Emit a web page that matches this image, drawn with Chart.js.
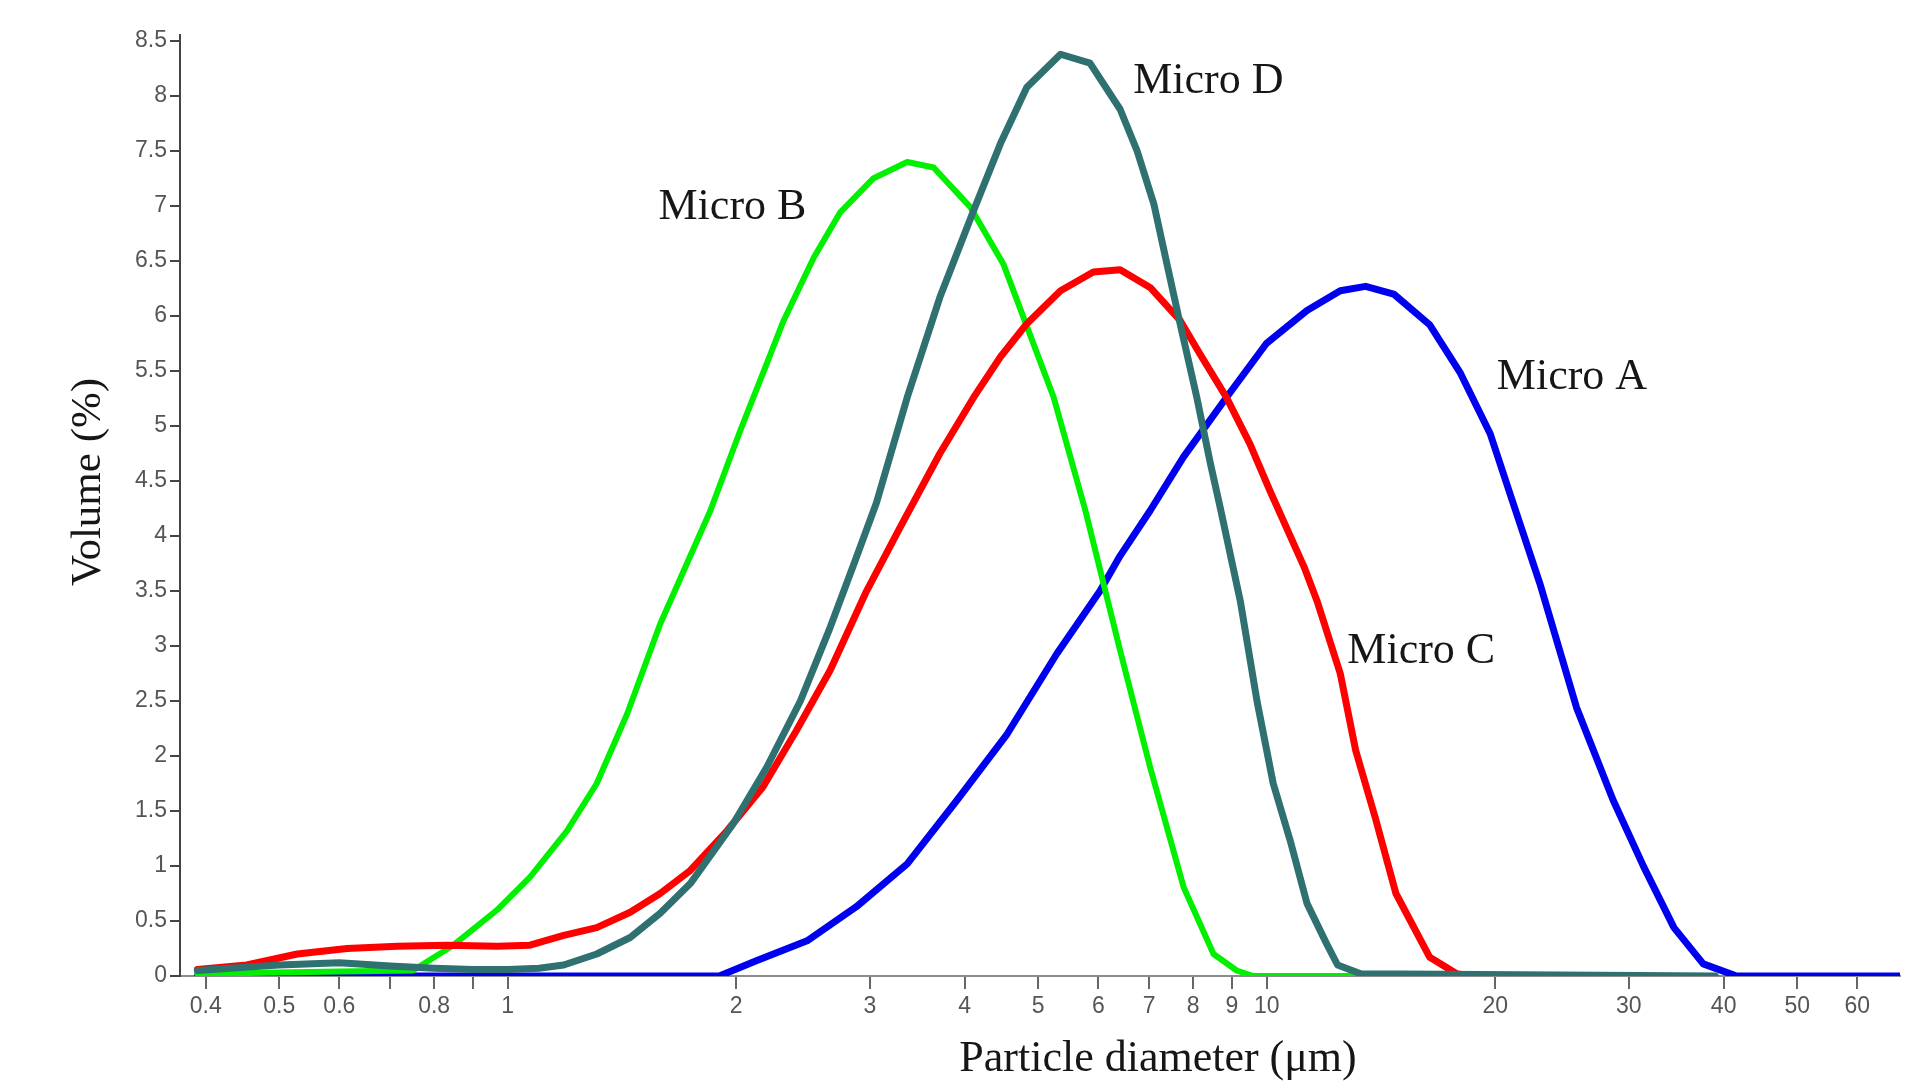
<!DOCTYPE html>
<html>
<head>
<meta charset="utf-8">
<title>Particle size distribution</title>
<script src="https://cdn.jsdelivr.net/npm/chart.js@4.4.1/dist/chart.umd.min.js"></script>
<style>
  html, body { margin: 0; padding: 0; background: #fff; }
  #wrap { width: 1913px; height: 1089px; position: relative; }
</style>
</head>
<body>
<div id="wrap"><canvas id="psdChart"></canvas></div>
<script>
// Particle diameter (um) / volume (%), one pair of arrays per sample
const microA_x = [0.39, 1.9, 2.13, 2.48, 2.88, 3.36, 3.91, 4.55, 5.29, 6.03, 6.41, 7.02, 7.77, 8.85, 9.99, 11.3, 12.5, 13.5, 14.7, 16.4, 18.0, 19.7, 21.0, 22.9, 25.6, 28.6, 31.4, 34.4, 37.6, 41.6, 68.3];
const microA_y = [0, 0, 0.14, 0.32, 0.63, 1.02, 1.60, 2.20, 2.93, 3.50, 3.82, 4.23, 4.72, 5.26, 5.75, 6.05, 6.23, 6.27, 6.20, 5.92, 5.48, 4.93, 4.35, 3.57, 2.44, 1.60, 0.99, 0.44, 0.11, 0, 0];

const microB_x = [0.39, 0.6, 0.75, 0.848, 0.968, 1.07, 1.197, 1.31, 1.436, 1.588, 1.849, 2.025, 2.195, 2.31, 2.53, 2.74, 3.03, 3.36, 3.64, 4.07, 4.50, 4.78, 5.24, 5.77, 6.41, 7.02, 7.77, 8.51, 9.13, 9.6, 13.0];
const microB_y = [0.02, 0.04, 0.05, 0.28, 0.60, 0.90, 1.32, 1.75, 2.38, 3.20, 4.23, 4.96, 5.57, 5.96, 6.53, 6.94, 7.25, 7.40, 7.35, 6.99, 6.47, 5.99, 5.26, 4.23, 2.96, 1.90, 0.81, 0.20, 0.05, 0, 0];

const microC_x = [0.39, 0.453, 0.528, 0.614, 0.715, 0.832, 0.968, 1.07, 1.185, 1.31, 1.45, 1.588, 1.74, 1.945, 2.17, 2.40, 2.66, 2.97, 3.29, 3.71, 4.11, 4.46, 4.83, 5.35, 5.91, 6.41, 7.02, 7.69, 8.16, 8.85, 9.5, 10.1, 11.2, 11.65, 12.5, 13.1, 13.9, 14.8, 16.4, 17.8, 18.5];
const microC_y = [0.06, 0.10, 0.20, 0.25, 0.27, 0.28, 0.27, 0.28, 0.37, 0.44, 0.58, 0.75, 0.96, 1.32, 1.72, 2.23, 2.78, 3.50, 4.08, 4.75, 5.26, 5.63, 5.93, 6.23, 6.40, 6.42, 6.26, 5.96, 5.66, 5.26, 4.84, 4.41, 3.72, 3.41, 2.75, 2.05, 1.44, 0.75, 0.17, 0.02, 0];

const microD_x = [0.39, 0.45, 0.5, 0.6, 0.7, 0.8, 0.9, 1.0, 1.1, 1.185, 1.31, 1.45, 1.588, 1.74, 1.98, 2.195, 2.43, 2.66, 2.86, 3.06, 3.36, 3.71, 4.11, 4.46, 4.83, 5.35, 5.85, 6.41, 6.75, 7.1, 7.39, 7.69, 8.09, 8.43, 8.69, 9.23, 9.71, 10.2, 10.74, 11.3, 12.0, 12.4, 13.3, 39.0];
const microD_y = [0.05, 0.08, 0.10, 0.12, 0.09, 0.07, 0.06, 0.06, 0.07, 0.10, 0.20, 0.35, 0.57, 0.84, 1.38, 1.90, 2.50, 3.17, 3.75, 4.30, 5.26, 6.17, 6.96, 7.57, 8.08, 8.38, 8.30, 7.88, 7.50, 7.02, 6.47, 5.93, 5.26, 4.66, 4.25, 3.41, 2.50, 1.75, 1.23, 0.66, 0.29, 0.10, 0.02, 0];

// axis ticks
const xTickValues = [0.4, 0.5, 0.6, 0.7, 0.8, 0.9, 1, 2, 3, 4, 5, 6, 7, 8, 9, 10, 20, 30, 40, 50, 60];
const xTickLabels = ["0.4", "0.5", "0.6", "", "0.8", "", "1", "2", "3", "4", "5", "6", "7", "8", "9", "10", "20", "30", "40", "50", "60"];
const yTickValues = [0, 0.5, 1, 1.5, 2, 2.5, 3, 3.5, 4, 4.5, 5, 5.5, 6, 6.5, 7, 7.5, 8, 8.5];

// curve names, placed next to each curve (x in um, y in %)
const curveLabels = [
  { text: "Micro D", x: 6.67, y: 8.03 },
  { text: "Micro B", x: 1.58, y: 6.88 },
  { text: "Micro A", x: 20.1, y: 5.34 },
  { text: "Micro C", x: 12.77, y: 2.85 },
];

const xTitle = "Particle diameter (\u03bcm)";
const yTitle = "Volume (%)";

function pairs(xs, ys) {
  return xs.map((x, i) => ({ x: x, y: ys[i] }));
}

const serif = "'Liberation Serif', 'Times New Roman', serif";

// draws the axis titles and the curve names
const textPlugin = {
  id: "textPlugin",
  afterDraw(chart) {
    const ctx = chart.ctx;
    const xs = chart.scales.x;
    const ys = chart.scales.y;
    ctx.save();
    ctx.fillStyle = "#161616";
    ctx.textBaseline = "alphabetic";

    ctx.font = "44px " + serif;
    ctx.textAlign = "left";
    curveLabels.forEach(function (l) {
      ctx.fillText(l.text, xs.getPixelForValue(l.x), ys.getPixelForValue(l.y));
    });

    ctx.textAlign = "center";
    ctx.fillText(xTitle, 1158, 1071);

    ctx.font = "43px " + serif;
    ctx.translate(100, 482);
    ctx.rotate(-Math.PI / 2);
    ctx.fillText(yTitle, 0, 0);
    ctx.restore();
  },
};

const tickFont = { family: "'Liberation Sans', Arial, sans-serif", size: 23 };

new Chart(document.getElementById("psdChart"), {
  type: "line",
  data: {
    datasets: [
      { label: "Micro D", data: pairs(microD_x, microD_y), borderColor: "#2f7070", borderWidth: 7, order: 0 },
      { label: "Micro C", data: pairs(microC_x, microC_y), borderColor: "#ff0000", borderWidth: 7, order: 1 },
      { label: "Micro B", data: pairs(microB_x, microB_y), borderColor: "#00f000", borderWidth: 6, order: 2 },
      { label: "Micro A", data: pairs(microA_x, microA_y), borderColor: "#0000f0", borderWidth: 7, order: 3 },
    ],
  },
  options: {
    responsive: true,
    maintainAspectRatio: false,
    devicePixelRatio: 1,
    animation: false,
    layout: { padding: { top: 35, right: 13, left: 0, bottom: 0 } },
    elements: {
      point: { radius: 0, hoverRadius: 0 },
      line: { tension: 0, fill: false, borderJoinStyle: "round", borderCapStyle: "round" },
    },
    plugins: {
      legend: { display: false },
      tooltip: { enabled: false },
    },
    scales: {
      x: {
        type: "logarithmic",
        min: 0.37,
        max: 68.3,
        afterBuildTicks: function (scale) {
          scale.ticks = xTickValues.map((v) => ({ value: v }));
        },
        afterFit: function (scale) {
          scale.height = 113;
        },
        ticks: {
          autoSkip: false,
          maxRotation: 0,
          padding: 4,
          color: "#555",
          font: tickFont,
          callback: function (value, index) {
            return xTickLabels[index];
          },
        },
        grid: { drawOnChartArea: false, drawTicks: true, tickLength: 13, color: "#666", lineWidth: 2 },
        border: { display: true, color: "#8c8c8c", width: 2 },
      },
      y: {
        type: "linear",
        min: 0,
        max: 8.555,
        afterBuildTicks: function (scale) {
          scale.ticks = yTickValues.map((v) => ({ value: v }));
        },
        afterFit: function (scale) {
          scale.width = 180;
        },
        ticks: {
          padding: 3,
          color: "#555",
          font: tickFont,
          callback: function (value) {
            return String(value);
          },
        },
        grid: { drawOnChartArea: false, drawTicks: true, tickLength: 10, color: "#444", lineWidth: 2 },
        border: { display: true, color: "#444", width: 2 },
      },
    },
  },
  plugins: [textPlugin],
});
</script>
</body>
</html>
